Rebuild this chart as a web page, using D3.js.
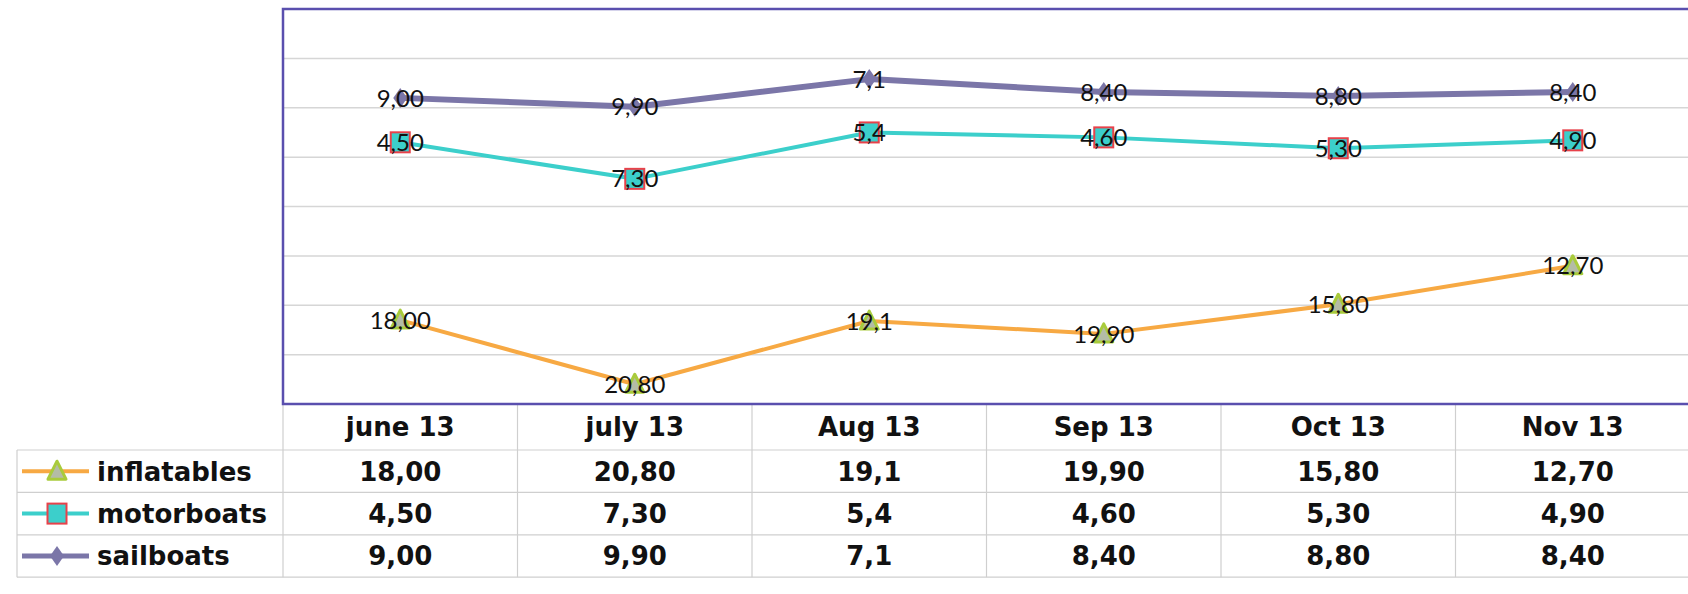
<!DOCTYPE html>
<html>
<head>
<meta charset="utf-8">
<script src="https://cdn.jsdelivr.net/npm/d3@7"></script>
<style>
  body { margin: 0; background: #fff; }
  svg { display: block; }
</style>
</head>
<body>
<div id="chart"></div>
<script>
// data
var months = ["june 13", "july 13", "Aug 13", "Sep 13", "Oct 13", "Nov 13"];
var seriesNames = ["inflatables", "motorboats", "sailboats"];
var inflatables = [18.00, 20.80, 19.1, 19.90, 15.80, 12.70];
var motorboats = [4.50, 7.30, 5.4, 4.60, 5.30, 4.90];
var sailboats = [9.00, 9.90, 7.1, 8.40, 8.80, 8.40];
var inflatablesLabels = ["18,00", "20,80", "19,1", "19,90", "15,80", "12,70"];
var motorboatsLabels = ["4,50", "7,30", "5,4", "4,60", "5,30", "4,90"];
var sailboatsLabels = ["9,00", "9,90", "7,1", "8,40", "8,80", "8,40"];
var yTicks = [0, 5, 10, 15, 20, 25, 30, 35, 40];

(function() {
  var width = 1688, height = 594;
  var plot = { left: 283, right: 1690, top: 9, bottom: 404 };
  var rowH = 42.4;
  var tableFont = "'DejaVu Sans', Verdana, sans-serif";

  var svg = d3.select("#chart")
    .append("svg")
    .attr("width", width)
    .attr("height", height);

  var labels = { inflatables: inflatablesLabels, motorboats: motorboatsLabels, sailboats: sailboatsLabels };
  var style = {
    inflatables: { line: "#f7a943", width: 4, fill: "#b4bca6", stroke: "#a9cb3c" },
    motorboats: { line: "#3ccfcb", width: 4, fill: "#3ccfcb", stroke: "#e8414a" },
    sailboats: { line: "#7b76a8", width: 6, fill: "#7b76a8", stroke: "#7b76a8" }
  };

  var table = months.map(function(m, i) {
    return { month: m, inflatables: inflatables[i], motorboats: motorboats[i], sailboats: sailboats[i] };
  });

  // stacked, top to bottom: sailboats, motorboats, inflatables (value axis runs downward)
  var stack = d3.stack().keys(["sailboats", "motorboats", "inflatables"]);
  var stacked = stack(table);

  var xScale = d3.scaleBand().domain(months).range([plot.left, plot.right]);
  var yScale = d3.scaleLinear().domain([0, 40]).range([plot.top, plot.bottom]);

  // gridlines
  svg.append("g")
    .selectAll("line")
    .data(yTicks.slice(1, -1))
    .enter().append("line")
    .attr("x1", plot.left).attr("x2", width)
    .attr("y1", function(d) { return yScale(d); })
    .attr("y2", function(d) { return yScale(d); })
    .attr("stroke", "#d6d6d6")
    .attr("stroke-width", 1.5);

  // table grid
  var tableTop = plot.bottom;
  var headH = 46;
  var tableBottom = tableTop + headH + 3 * rowH;
  var grid = svg.append("g").attr("stroke", "#cfcfcf").attr("stroke-width", 1.2);
  [0, 1, 2, 3].forEach(function(r) {
    var y = tableTop + headH + r * rowH;
    grid.append("line").attr("x1", 17).attr("x2", width).attr("y1", y).attr("y2", y);
  });
  grid.append("line").attr("x1", 17).attr("x2", 17)
    .attr("y1", tableTop + headH).attr("y2", tableBottom);
  months.forEach(function(m, i) {
    if (i === 0) return;
    grid.append("line")
      .attr("x1", xScale(m)).attr("x2", xScale(m))
      .attr("y1", tableTop).attr("y2", tableBottom);
  });
  grid.append("line").attr("x1", plot.left).attr("x2", plot.left)
    .attr("y1", tableTop).attr("y2", tableBottom);

  // plot border
  svg.append("path")
    .attr("d", "M" + width + "," + plot.top + "H" + plot.left + "V" + plot.bottom + "H" + width)
    .attr("fill", "none")
    .attr("stroke", "#5a4fae")
    .attr("stroke-width", 2.5);

  function marker(g, key) {
    var s = style[key];
    if (key === "sailboats") {
      g.append("path").attr("d", "M0,-10L7,0L0,10L-7,0Z")
        .attr("fill", s.fill);
    } else if (key === "motorboats") {
      g.append("rect").attr("x", -9.5).attr("y", -10).attr("width", 19).attr("height", 20)
        .attr("fill", s.fill).attr("stroke", s.stroke).attr("stroke-width", 2);
    } else {
      g.append("path").attr("d", "M0,-10L9,8L-9,8Z")
        .attr("fill", s.fill).attr("stroke", s.stroke).attr("stroke-width", 3)
        .attr("stroke-linejoin", "round");
    }
  }

  var line = d3.line()
    .x(function(d) { return xScale(d.data.month) + xScale.bandwidth() / 2; })
    .y(function(d) { return yScale(d[1]); });

  stacked.forEach(function(layer) {
    var key = layer.key;
    svg.append("path")
      .datum(layer)
      .attr("d", line)
      .attr("fill", "none")
      .attr("stroke", style[key].line)
      .attr("stroke-width", style[key].width)
      .attr("stroke-linejoin", "round");
  });

  stacked.forEach(function(layer) {
    var key = layer.key;
    layer.forEach(function(d) {
      var g = svg.append("g")
        .attr("transform", "translate(" + (xScale(d.data.month) + xScale.bandwidth() / 2) + "," + yScale(d[1]) + ")");
      marker(g, key);
    });
  });

  stacked.forEach(function(layer) {
    var key = layer.key;
    svg.append("g")
      .selectAll("text")
      .data(layer)
      .enter().append("text")
      .attr("x", function(d) { return xScale(d.data.month) + xScale.bandwidth() / 2; })
      .attr("y", function(d) { return yScale(d[1]); })
      .attr("dy", "0.36em")
      .attr("text-anchor", "middle")
      .attr("font-family", "Lato, 'Open Sans', sans-serif")
      .attr("font-size", 24)
      .attr("fill", "#111")
      .text(function(d, i) { return labels[key][i]; });
  });

  // table header
  svg.append("g")
    .selectAll("text")
    .data(months)
    .enter().append("text")
    .attr("x", function(d) { return xScale(d) + xScale.bandwidth() / 2; })
    .attr("y", tableTop + headH / 2)
    .attr("dy", "0.36em")
    .attr("text-anchor", "middle")
    .attr("font-family", tableFont)
    .attr("font-weight", "bold")
    .attr("font-size", 26)
    .attr("fill", "#111")
    .text(function(d) { return d; });

  // table rows with legend keys
  seriesNames.forEach(function(key, r) {
    var cy = tableTop + headH + r * rowH + rowH / 2;
    var row = svg.append("g");
    row.append("line")
      .attr("x1", 22).attr("x2", 89).attr("y1", cy).attr("y2", cy)
      .attr("stroke", style[key].line).attr("stroke-width", key === "sailboats" ? 5 : 4);
    var mg = row.append("g").attr("transform", "translate(57," + cy + ")");
    marker(mg, key);
    row.append("text")
      .attr("x", 97).attr("y", cy).attr("dy", "0.36em")
      .attr("font-family", tableFont)
      .attr("font-weight", "bold")
      .attr("font-size", 26)
      .attr("fill", "#111")
      .text(key);
    row.selectAll("text.v")
      .data(labels[key])
      .enter().append("text")
      .attr("class", "v")
      .attr("x", function(d, i) { return xScale(months[i]) + xScale.bandwidth() / 2; })
      .attr("y", cy).attr("dy", "0.36em")
      .attr("text-anchor", "middle")
      .attr("font-family", tableFont)
      .attr("font-weight", "bold")
      .attr("font-size", 26)
      .attr("fill", "#111")
      .text(function(d) { return d; });
  });
})();
</script>
</body>
</html>
